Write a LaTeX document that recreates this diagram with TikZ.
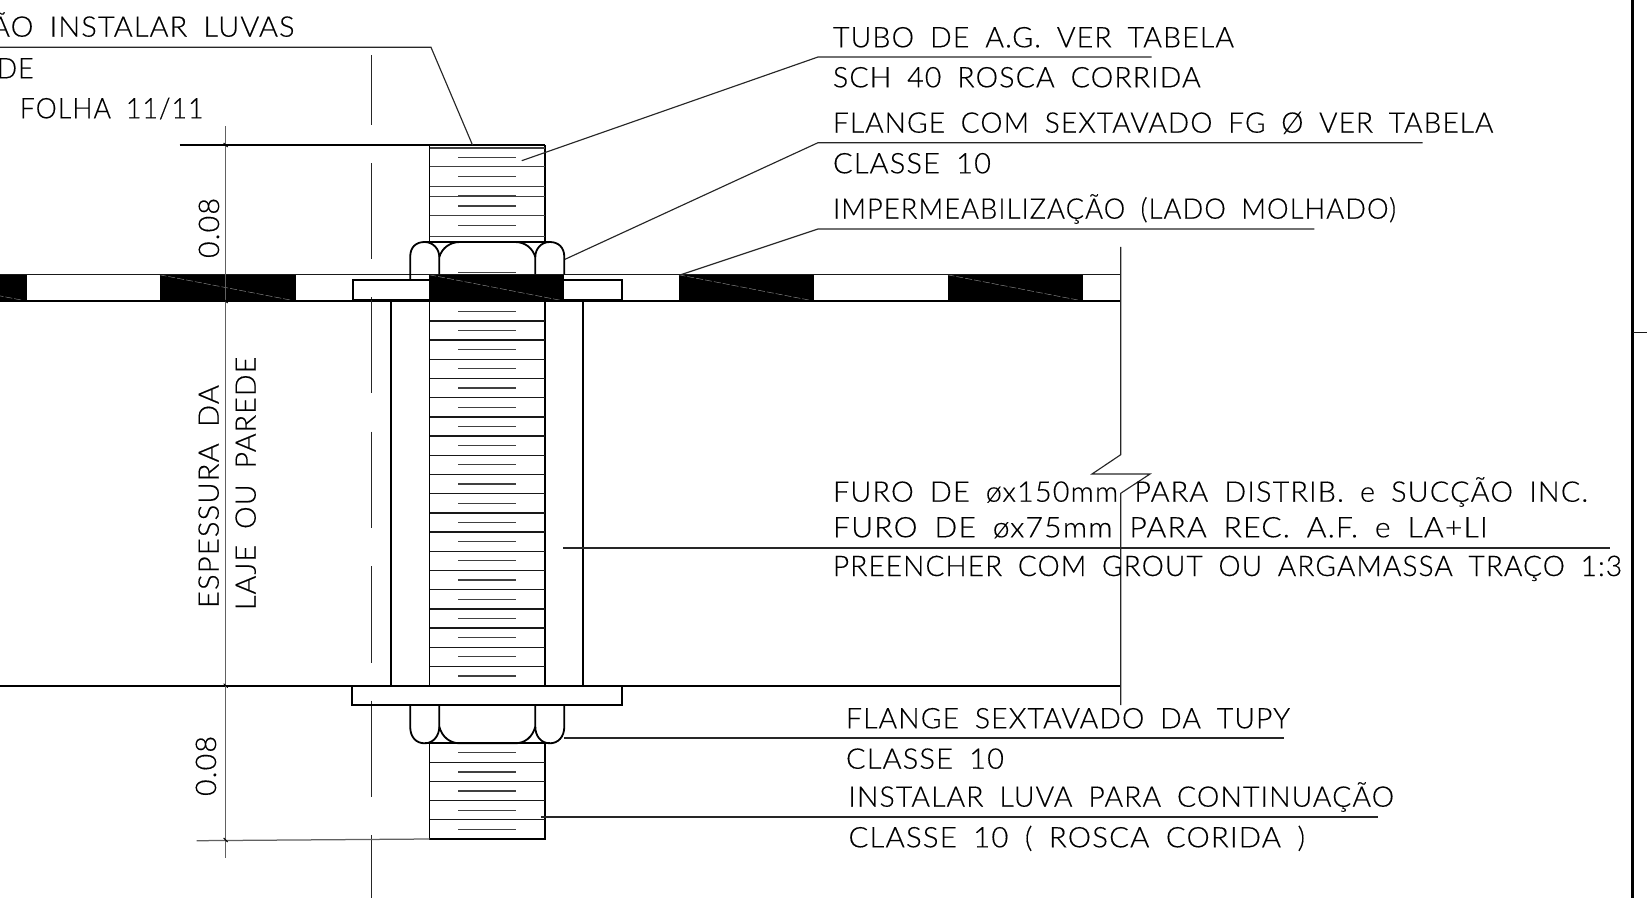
\documentclass[tikz,border=0pt]{standalone}
\usepackage{graphicx}
\usepackage{fontspec}
\setmainfont{Lato}[UprightFont=* Light,UprightFeatures={FakeBold=0.35},LetterSpace=4,WordSpace=1.8]
\usetikzlibrary{calc}
\newlength\fitlen
\newcommand\fitw[2]{\settowidth\fitlen{#2}\pgfmathsetmacro\fitr{#1*1.00375/\fitlen}\scalebox{\fitr}[1]{#2}}
\tikzset{
  lab/.style={anchor=base west,inner sep=0pt,outer sep=0pt,font=\fontsize{28.5}{30}\selectfont,text=black},
  rlab/.style={lab,rotate=90},
  heavy/.style={draw=black,line width=1.8bp},
  thin part/.style={draw=black!90,line width=1.25bp},
  thread/.style={draw=black!75,line width=1.25bp},
  leader/.style={draw=black!85,line width=1.15bp},
  dimline/.style={draw=black!62,line width=1.25bp},
  axisline/.style={draw=black!85,line width=1.2bp},
  block/.style={fill=black,draw=none},
  hatch/.style={draw=black!45,line width=.45bp,dash pattern=on 7bp off 2bp}
}
\begin{document}
\begin{tikzpicture}[x=1bp,y=-1bp]
\useasboundingbox (0,0) rectangle (1647,898);
% slab blocks
\foreach \a/\b in {-109.5/26.5,159.5/295.5,429.3/564.3,678.5/814,947.5/1083}{
  \fill[block] (\a,274.3) rectangle (\b,301.5);
  \draw[hatch] (\a,274.8) -- (\b,301);
}
% slab lines
\draw[thin part] (0,274.3) -- (1120.7,274.3);
\draw[heavy] (0,301) -- (1120.7,301);
\draw[heavy] (0,685.7) -- (1120.7,685.7);
% break line
\coordinate (brA) at (1120.7,246.8);
\coordinate (brB) at (1120.7,454.7);
\coordinate (brC) at (1092,474);
\coordinate (brD) at (1150,474);
\coordinate (brE) at (1120.7,493.3);
\coordinate (brF) at (1120.7,705);
\draw[leader] (brA) -- (brB) -- (brC) -- (brD) -- (brE) -- (brF);
% axis
\foreach \a/\b in {55/125,163/259,297/393.3,431.7/528.3,566/662.7,700.7/796.7,835.3/898}{
  \draw[axisline] (371.3,\a) -- (371.3,\b);
}
% sleeve
\draw[heavy] (391.3,301) -- (391.3,685.7);
\draw[heavy] (583.3,301) -- (583.3,685.7);
% bolt sides
\draw[heavy] (429.5,145) -- (429.5,242);
\draw[heavy] (544.7,145) -- (544.7,242);
\draw[heavy] (429.5,301) -- (429.5,685.7);
\draw[heavy] (544.7,301) -- (544.7,685.7);
\draw[heavy] (429.5,743.3) rectangle (544.7,839);
% threads: upper part
\draw[draw=black,line width=2.2bp] (429.5,145.3) -- (544.7,145.3);
\draw[thread] (429.5,148) -- (544.7,148);
\foreach \y in {166.7,186.3,196.7,215.7,236.7}{\draw[thread] (429.5,\y) -- (544.7,\y);}
\foreach \y in {157.3,176.7,195.7,206,225.3,272.3}{\draw[thread] (458,\y) -- (516.3,\y);}
% threads: middle part
\foreach \k in {1,...,19}{\draw[thin part] (429.5,685.7-19.2*\k) -- (544.7,685.7-19.2*\k);}
\foreach \k in {0,...,19}{\draw[thread] (458,676-19.2*\k) -- (516.3,676-19.2*\k);}
% threads: lower part
\foreach \y in {762.3,781.7,800.7,819.7}{\draw[thin part] (429.5,\y) -- (544.7,\y);}
\foreach \y in {752.7,772,791,810.3,829.3}{\draw[thread] (458,\y) -- (516.3,\y);}
% upper flange plate
\draw[heavy] (429.5,280) -- (353,280) -- (353,299.5) -- (429.5,299.5);
\draw[heavy] (564.3,280) -- (621.7,280) -- (621.7,299.5) -- (564.3,299.5);
% lower flange plate
\draw[heavy] (352.3,685.7) rectangle (621.7,704.7);
% upper nut
\draw[heavy] (410.2,280) -- (410.2,257) .. controls (410.2,247) and (416,242) .. (424.7,242) .. controls (433,242) and (439.3,249) .. (439.3,257) -- (439.3,274.3);
\draw[heavy] (564.3,274.3) -- (564.3,257) .. controls (564.3,247) and (558,242) .. (549.8,242) .. controls (541,242) and (535.3,249) .. (535.3,257) -- (535.3,274.3);
\draw[heavy] (439.3,257) .. controls (442,248) and (450,242) .. (460,242) -- (515,242) .. controls (525,242) and (532.5,248) .. (535.3,257);
\draw[heavy] (424.7,242) -- (549.8,242);
% lower nut
\draw[heavy] (410.2,704.7) -- (410.2,726.7) .. controls (410.2,737) and (416,743.3) .. (424.7,743.3) .. controls (433,743.3) and (439.3,736) .. (439.3,726.7) -- (439.3,704.7);
\draw[heavy] (564.3,704.7) -- (564.3,726.7) .. controls (564.3,737) and (558,743.3) .. (549.8,743.3) .. controls (541,743.3) and (535.3,736) .. (535.3,726.7) -- (535.3,704.7);
\draw[heavy] (439.3,726.7) .. controls (442,737) and (450,743.3) .. (460,743.3) -- (515,743.3) .. controls (525,743.3) and (532.5,737) .. (535.3,726.7);
\draw[heavy] (424.7,743.3) -- (549.8,743.3);
% dimensions
\draw[dimline] (225.7,126) -- (225.7,858);
\draw[heavy,line width=1.3bp] (179.5,145) -- (429.5,145);
\draw[dimline] (196.7,840.7) -- (429.5,839);
\foreach \y/\yy in {145/145,301/301,685.7/685.7,840/840}{\draw[draw=black,line width=1bp] (223.7,\y-2) -- (227.7,\yy+2);}
% frame
\draw[draw=black,line width=2.4bp] (1632.5,0) -- (1632.5,898);
\draw[thin part,line width=1.5bp] (1632.5,332.3) -- (1647,332.3);
% leaders
\coordinate (lvA) at (0,47.3);\coordinate (lvB) at (431,47.3);\coordinate (lvC) at (472.5,145);
\draw[leader] (lvA) -- (lvB) -- (lvC);
\coordinate (tbA) at (521.7,160.7);\coordinate (tbB) at (818,57);\coordinate (tbC) at (1151.7,57);
\draw[leader] (tbA) -- (tbB) -- (tbC);
\coordinate (flA) at (565,259.3);\coordinate (flB) at (818,142.7);\coordinate (flC) at (1422.7,142.7);
\draw[leader] (flA) -- (flB) -- (flC);
\coordinate (imA) at (680,275);\coordinate (imB) at (818,229);\coordinate (imC) at (1314.3,229);
\draw[leader] (imA) -- (imB) -- (imC);
\coordinate (fuA) at (563,548);\coordinate (fuB) at (1610,548);
\draw[leader] (fuA) -- (fuB);
\coordinate (fsA) at (564.3,738);\coordinate (fsB) at (1284.3,738);
\draw[leader] (fsA) -- (fsB);
\coordinate (ilA) at (541,817);\coordinate (ilB) at (1378,817);
\draw[leader] (ilA) -- (ilB);
% texts
\node[lab] (t1) at (-9,36.7) {\fitw{303.5}{ÃO INSTALAR LUVAS}};
\node[lab] (t2) at (-3,78.3) {\fitw{36.6}{DE}};
\node[lab] (t3) at (19.8,118.3) {\fitw{183.7}{FOLHA 11/11}};
\node[lab] (t4) at (833,47.3) {\fitw{401}{TUBO DE A.G. VER TABELA}};
\node[lab] (t5) at (833,87.3) {\fitw{367.7}{SCH 40 ROSCA CORRIDA}};
\node[lab] (t6) at (833,132.7) {\fitw{660.3}{FLANGE COM SEXTAVADO FG Ø VER TABELA}};
\node[lab] (t7) at (833,173.3) {\fitw{158}{CLASSE 10}};
\node[lab] (t8) at (833,218.7) {\fitw{563}{IMPERMEABILIZAÇÃO (LADO MOLHADO)}};
\node[lab] (t9) at (833,501.7) {\fitw{755}{FURO DE øx150mm PARA DISTRIB. e SUCÇÃO INC.}};
\node[lab] (t10) at (833,537.3) {\fitw{654.7}{FURO DE øx75mm PARA REC. A.F. e LA+LI}};
\node[lab] (t11) at (833,576) {\fitw{789}{PREENCHER COM GROUT OU ARGAMASSA TRAÇO 1:3}};
\node[lab] (t12) at (846,728.3) {\fitw{444}{FLANGE SEXTAVADO DA TUPY}};
\node[lab] (t13) at (846,768.7) {\fitw{158}{CLASSE 10}};
\node[lab] (t14) at (848.5,806.7) {\fitw{545.5}{INSTALAR LUVA PARA CONTINUAÇÃO}};
\node[lab] (t15) at (848.5,847.3) {\fitw{456.5}{CLASSE 10 ( ROSCA CORIDA )}};
\node[rlab] (t16) at (218.7,608) {\fitw{223}{ESPESSURA DA}};
\node[rlab] (t17) at (255.7,610) {\fitw{253.3}{LAJE OU PAREDE}};
\node[rlab] (t18) at (219,258) {\fitw{60}{0.08}};
\node[rlab] (t19) at (216,796) {\fitw{60}{0.08}};
\end{tikzpicture}
\end{document}
